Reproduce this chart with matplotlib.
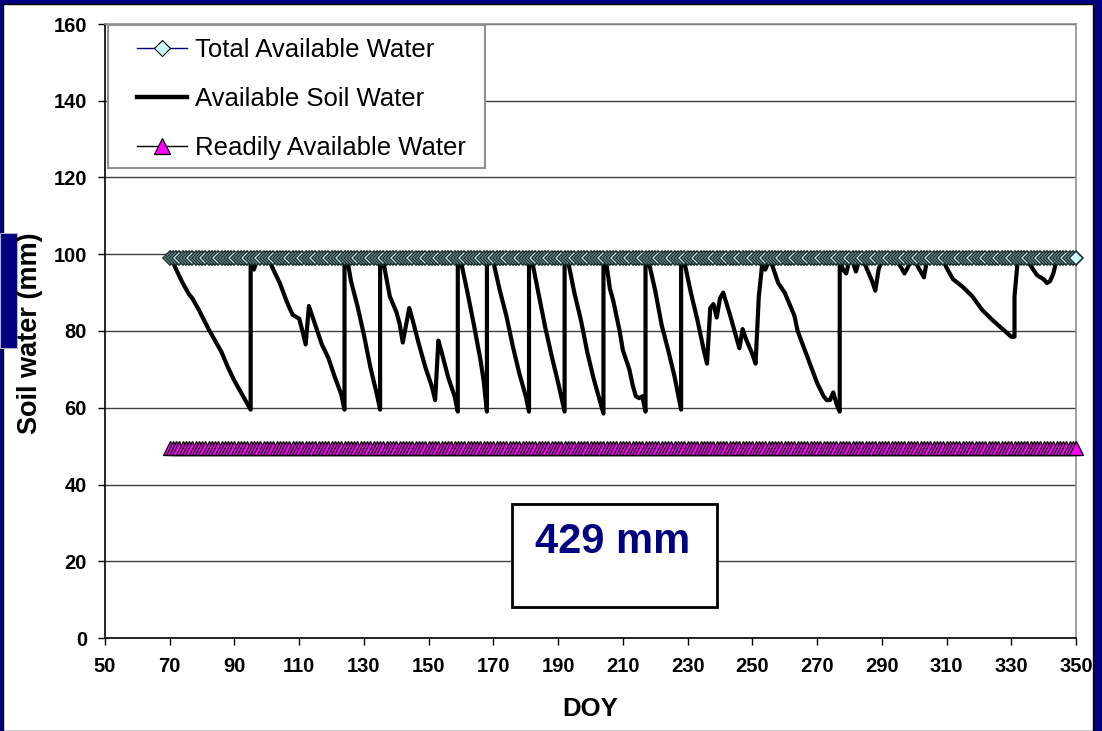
import numpy as np
import matplotlib
matplotlib.use('Agg')
import matplotlib.pyplot as plt
from matplotlib.lines import Line2D
from matplotlib.patches import Rectangle

plt.rcParams['font.family'] = ['Liberation Sans', 'DejaVu Sans']

# daily reference lines, DOY 70..350
days = np.arange(70, 351)
taw_level = 99.0     # Total Available Water (mm)
raw_level = 49.5     # Readily Available Water (mm)
taw = np.full(len(days), taw_level)
raw = np.full(len(days), raw_level)

# Available Soil Water (DOY, mm); repeated DOY = irrigation jump
asw_doy = [70, 71, 72, 74, 76, 77, 79, 82, 84, 86, 88, 90, 92, 94, 95, 95, 96, 97, 100,
           101, 102, 104, 106, 107, 108, 110, 111, 112, 113, 114, 115, 117, 119, 121, 123, 124, 124,
           125, 126, 128, 130, 132, 134, 135, 135,
           136, 138, 140, 141, 142, 144, 145, 147, 149, 151, 152, 153, 154, 156, 158, 159, 159,
           160, 162, 164, 166, 167, 168, 168,
           170, 172, 174, 176, 178, 180, 181, 181,
           182, 184, 186, 188, 190, 192, 192,
           193, 195, 197, 199, 201, 204, 204,
           205, 206, 207, 209, 210, 212, 213, 214, 215, 216, 217, 217,
           218, 220, 221, 222, 224, 226, 228, 228,
           229, 231, 233, 235, 236, 237, 238, 239, 240, 241, 243, 244, 246, 247, 248, 250, 251,
           252, 253, 254, 255,
           256, 258, 260, 262, 263, 264, 266, 268, 270, 272, 273, 274, 275, 276, 277, 277,
           278, 279, 280, 281, 282, 283, 284, 285, 286, 287, 288, 289, 290,
           294, 295, 296, 297, 298, 299, 300, 301, 302, 303, 304,
           309, 310, 312, 315, 318, 321, 324, 326, 328, 330, 331, 331, 332,
           335, 336, 338, 340, 341, 342, 343, 344, 350]
asw_mm = [99, 98, 96, 92.5, 89.5, 88.5, 85.5, 80.5, 77.5, 74.5, 70.5, 67, 64, 61, 59.5, 99, 96, 98.5, 98.5,
          98, 96, 92.5, 88, 86, 84.2, 83.2, 80, 76.5, 86.5, 84, 81.5, 76.5, 73, 68, 63.5, 59.5, 99,
          98, 93, 86.5, 79, 70.5, 63.5, 59.5, 99,
          98, 89, 85, 82, 77, 86, 83, 76.5, 70.5, 65.5, 62, 77.5, 74.5, 68, 63, 59, 99,
          98, 90, 81.5, 72.5, 67, 59, 99,
          98, 90.5, 84, 76, 69, 63, 59, 99,
          98, 89.5, 81, 73.5, 66.5, 59, 99,
          98.5, 90, 83, 74.5, 67.5, 58.5, 99,
          97, 91, 88, 80, 75, 70, 66, 63, 62.5, 63, 59, 99,
          98, 90.5, 86, 81.5, 75, 68, 59.5, 99,
          98, 90, 83, 75, 71.5, 86, 87, 83.5, 88.5, 90, 84.5, 81.5, 75.5, 80.5, 78, 74, 71.5,
          89, 97, 96, 98,
          97.5, 92.5, 90, 86, 84, 80, 75.5, 71, 66.5, 63, 62, 62, 64, 61, 59, 99,
          96, 95, 98.5, 98, 95.5, 98.5, 98.5, 97, 95, 93, 90.5, 96, 98.5,
          98.5, 98, 96.5, 95, 96.5, 98.5, 98.5, 97, 95.5, 94, 98.5,
          98.5, 96.5, 93.5, 91.5, 89, 85.5, 83, 81.5, 80, 78.5, 78.5, 89, 98.5,
          98.5, 97, 94.5, 93.5, 92.5, 93, 95, 98.5, 99]

labels = ['Total Available Water', 'Available Soil Water', 'Readily Available Water']
total_text = '429 mm'

fig = plt.figure(figsize=(11.02, 7.31), dpi=100)
fig.patch.set_facecolor('#000080')
# white slide panel and the small navy tab on the left edge (behind the axes)
fig.patches.append(Rectangle((3 / 1102, 0), 1090 / 1102, 727 / 731, transform=fig.transFigure,
                             facecolor='white', edgecolor='black', lw=1, zorder=-2))
fig.patches.append(Rectangle((0, 383 / 731), 17 / 1102, 115 / 731, transform=fig.transFigure,
                             facecolor='#000080', edgecolor='#b0b0c8', lw=0.8, zorder=-1))

ax = fig.add_axes([105 / 1102, 93 / 731, 971 / 1102, 614 / 731])
ax.set_facecolor('white')

ax.plot(asw_doy, asw_mm, color='black', lw=3, solid_joinstyle='round', zorder=2)
ax.plot(days, taw, color='#000080', lw=0.8, marker='D', ms=7.3, mfc='#CCFFFF',
        mec='#1e2c2c', mew=1.2, zorder=3, clip_on=False)
ax.plot(days, raw, color='black', lw=0.8, marker='^', ms=10, mfc='#FF00FF',
        mec='black', mew=0.9, zorder=3, clip_on=False)

ax.set_xlim(50, 350)
ax.set_ylim(0, 160)
ax.set_xticks(range(50, 351, 20))
ax.set_yticks(range(0, 161, 20))
ax.yaxis.grid(True, color='#404040', lw=1)
ax.set_axisbelow(True)
for s in ['left', 'bottom']:
    ax.spines[s].set_color('black')
    ax.spines[s].set_linewidth(1.2)
for s in ['top', 'right']:
    ax.spines[s].set_color('#909090')
    ax.spines[s].set_linewidth(1.2)
ax.tick_params(axis='both', direction='out', length=5, width=1, labelsize=14.5)
ax.tick_params(axis='y', pad=8)
ax.tick_params(axis='x', pad=9)
for lbl in ax.get_xticklabels() + ax.get_yticklabels():
    lbl.set_fontweight('bold')

fig.text(590 / 1102, 1 - 709 / 731, 'DOY', fontsize=18.5, fontweight='bold', ha='center', va='center')
fig.text(30 / 1102, 1 - 333 / 731, 'Soil water (mm)', fontsize=19.5, fontweight='bold',
         rotation=90, ha='center', va='center')

# legend box drawn by hand so it hugs the top-left corner like the original
ax.add_patch(Rectangle((0.003, 0.765), 0.388, 0.233, transform=ax.transAxes,
                       facecolor='white', edgecolor='#909090', lw=1.5, zorder=4))
handles = [
    Line2D([], [], color='#000080', lw=1, marker='D', ms=8, mfc='#CCFFFF', mec='black', mew=0.8),
    Line2D([], [], color='black', lw=3.2),
    Line2D([], [], color='black', lw=1, marker='^', ms=11, mfc='#FF00FF', mec='black', mew=0.9),
]
leg = ax.legend(handles, labels, loc='upper left', bbox_to_anchor=((137 - 105) / 971, 0.977),
                borderaxespad=0, borderpad=0, frameon=False, fontsize=18.5, handlelength=1.95,
                handletextpad=0.31, labelspacing=0.97)
leg.set_zorder(5)

ax.add_patch(Rectangle((0.419, 0.0505), 0.211, 0.168, transform=ax.transAxes,
                       facecolor='white', edgecolor='black', lw=2, zorder=4))
ax.text(0.523, 0.157, total_text, transform=ax.transAxes, fontsize=30, fontweight='bold',
        color='#000080', ha='center', va='center', zorder=5)

fig.savefig('out.png', dpi=100, facecolor=fig.get_facecolor())
